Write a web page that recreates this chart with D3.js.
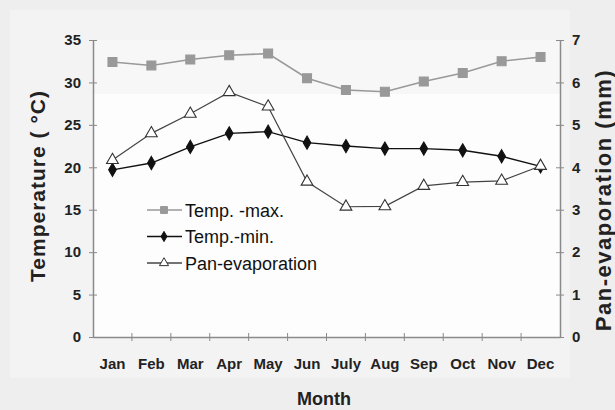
<!DOCTYPE html>
<html>
<head>
<meta charset="utf-8">
<script src="https://cdn.jsdelivr.net/npm/d3@7"></script>
<style>
  body { margin: 0; background: #fff; }
  svg { display: block; font-family: "Liberation Sans", Arial, sans-serif; }
</style>
</head>
<body>
<div id="chart"></div>
<script>
// data
const months = ["Jan", "Feb", "Mar", "Apr", "May", "Jun", "July", "Aug", "Sep", "Oct", "Nov", "Dec"];
const tempMax = [32.4, 32.0, 32.7, 33.2, 33.4, 30.5, 29.1, 28.9, 30.1, 31.1, 32.5, 33.0];
const tempMin = [19.7, 20.5, 22.4, 24.0, 24.2, 22.9, 22.5, 22.2, 22.2, 22.0, 21.3, 20.1];
const panEvap = [4.17, 4.80, 5.26, 5.77, 5.43, 3.66, 3.07, 3.08, 3.56, 3.65, 3.68, 4.03];
const leftTicks = [0, 5, 10, 15, 20, 25, 30, 35];
const rightTicks = [0, 1, 2, 3, 4, 5, 6, 7];

// dimensions
let width = 615, height = 410;
let margin = {top: 40, right: 55, bottom: 73, left: 93};
let w = width - margin.left - margin.right,
    h = height - margin.top - margin.bottom;

let tickFont = '"Liberation Sans Narrow", "Liberation Sans", Arial, sans-serif';

let svg = d3.select("#chart").append("svg")
    .attr("width", width)
    .attr("height", height);

// scanned page look
svg.append("rect").attr("width", width).attr("height", height).attr("fill", "#eeeeee");
svg.append("rect").attr("x", 10).attr("y", 10).attr("width", 560).attr("height", 368).attr("fill", "#f3f3f3");

let g = svg.append("g")
    .attr("transform", "translate(" + margin.left + "," + margin.top + ")");

g.append("rect").attr("width", w).attr("height", h).attr("fill", "#fdfdfd");
g.append("rect").attr("width", w).attr("height", 54).attr("fill", "#f7f7f7");

// scales
let x = d3.scaleBand().domain(months).range([0, w]);
let yL = d3.scaleLinear().domain([0, 35]).range([h, 0]);
let yR = d3.scaleLinear().domain([0, 7]).range([h, 0]);
let cx = function(d){ return x(d) + x.bandwidth() / 2; };

let axisColor = "#8a8a8a";

// left axis
let left = g.append("g")
    .call(d3.axisLeft(yL).tickValues(leftTicks).tickSizeInner(4).tickSizeOuter(0).tickPadding(8));
left.select(".domain").attr("stroke", axisColor).attr("stroke-width", 1.5);
left.selectAll(".tick line").attr("stroke", axisColor).attr("x2", 4).attr("x1", -4);
left.selectAll("text").attr("font-family", tickFont).attr("font-size", 15).attr("font-weight", "bold").attr("fill", "#222");

// right axis
let right = g.append("g")
    .attr("transform", "translate(" + w + ",0)")
    .call(d3.axisRight(yR).tickValues(rightTicks).tickFormat(d3.format("d")).tickSizeInner(4).tickSizeOuter(0).tickPadding(8));
right.select(".domain").attr("stroke", axisColor).attr("stroke-width", 1.5);
right.selectAll(".tick line").attr("stroke", axisColor).attr("x1", -4).attr("x2", 4);
right.selectAll("text").attr("font-family", tickFont).attr("font-size", 15).attr("font-weight", "bold").attr("fill", "#222");

// bottom axis: labels at centres, ticks at band edges
let bottom = g.append("g")
    .attr("transform", "translate(0," + h + ")")
    .call(d3.axisBottom(x).tickSize(0).tickPadding(21));
bottom.select(".domain").attr("stroke", axisColor).attr("stroke-width", 1.5);
bottom.selectAll("text").attr("font-family", tickFont).attr("font-size", 15).attr("font-weight", "bold").attr("fill", "#222");
bottom.selectAll(".edge")
    .data(months.slice(1))
    .enter()
    .append("line")
    .attr("x1", function(d){ return x(d); })
    .attr("x2", function(d){ return x(d); })
    .attr("y1", -4)
    .attr("y2", 4)
    .attr("stroke", axisColor);

// axis titles
svg.append("text")
    .attr("transform", "translate(45,186) rotate(-90)")
    .attr("text-anchor", "middle")
    .attr("font-size", 21)
    .attr("font-weight", "bold")
    .attr("letter-spacing", 1)
    .attr("fill", "#222")
    .text("Temperature ( °C)");

svg.append("text")
    .attr("transform", "translate(611,200) rotate(-90)")
    .attr("text-anchor", "middle")
    .attr("font-size", 22)
    .attr("font-weight", "bold")
    .attr("letter-spacing", 1.5)
    .attr("fill", "#222")
    .text("Pan-evaporation (mm)");

svg.append("text")
    .attr("x", 324)
    .attr("y", 405)
    .attr("text-anchor", "middle")
    .attr("font-size", 18)
    .attr("font-weight", "bold")
    .attr("fill", "#222")
    .text("Month");

// series
let series = [
    {name: "Temp. -max.", values: tempMax, y: yL, line: "#999", lw: 1.6, shape: d3.symbolSquare, size: 80, fill: "#999", stroke: "#999"},
    {name: "Temp.-min.", values: tempMin, y: yL, line: "#111", lw: 1.4, shape: d3.symbolDiamond, size: 50, fill: "#111", stroke: "#111"},
    {name: "Pan-evaporation", values: panEvap, y: yR, line: "#444", lw: 1.2, shape: d3.symbolTriangle, size: 60, fill: "#fff", stroke: "#333"}
];

series.forEach(function(s){
    let line = d3.line()
        .x(function(d, i){ return cx(months[i]); })
        .y(function(d){ return s.y(d); });
    g.append("path")
        .datum(s.values)
        .attr("fill", "none")
        .attr("stroke", s.line)
        .attr("stroke-width", s.lw)
        .attr("d", line);
    g.selectAll(null)
        .data(s.values)
        .enter()
        .append("path")
        .attr("transform", function(d, i){ return "translate(" + cx(months[i]) + "," + s.y(d) + ")"; })
        .attr("d", d3.symbol().type(s.shape).size(s.size))
        .attr("fill", s.fill)
        .attr("stroke", s.stroke)
        .attr("stroke-width", 1.1);
});

// legend
let legend = svg.append("g").attr("transform", "translate(147,210)");
series.forEach(function(s, i){
    let row = legend.append("g").attr("transform", "translate(0," + (i * 26.5) + ")");
    row.append("line").attr("x1", 0).attr("x2", 35).attr("stroke", s.line).attr("stroke-width", 1.3);
    row.append("path")
        .attr("transform", "translate(17,0)")
        .attr("d", d3.symbol().type(s.shape).size(s.size * 0.6))
        .attr("fill", s.fill)
        .attr("stroke", s.stroke);
    row.append("text")
        .attr("x", 38)
        .attr("y", 6.5)
        .attr("font-size", 18)
        .attr("fill", "#111")
        .text(s.name);
});
</script>
</body>
</html>
